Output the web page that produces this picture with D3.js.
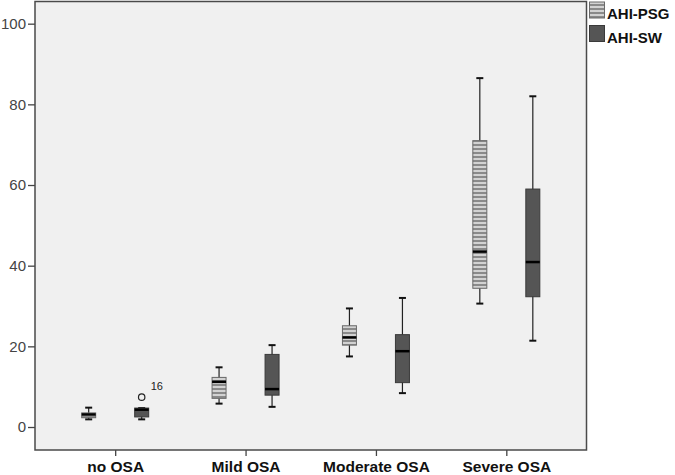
<!DOCTYPE html>
<html><head><meta charset="utf-8">
<script src="https://cdn.jsdelivr.net/npm/d3@7"></script>
<style>body{margin:0;background:#fff}svg{display:block}</style>
</head><body>
<script>
const categories = ["no OSA", "Mild OSA", "Moderate OSA", "Severe OSA"];
const seriesNames = ["AHI-PSG", "AHI-SW"];
// AHI-PSG box stats
const psgMin = [1.9, 5.8, 17.5, 30.6];
const psgQ1  = [2.3, 7.1, 20.3, 34.4];
const psgMed = [3.1, 11.2, 22.2, 43.5];
const psgQ3  = [3.5, 12.3, 25.1, 71.0];
const psgMax = [4.8, 14.8, 29.4, 86.5];
// AHI-SW box stats
const swMin = [1.9, 5.0, 8.4, 21.4];
const swQ1  = [2.5, 7.9, 11.0, 32.3];
const swMed = [4.3, 9.4, 18.8, 40.9];
const swQ3  = [4.7, 18.0, 22.9, 59.0];
const swMax = [4.7, 20.3, 32.0, 82.0];
// outliers
const outlierCategory = ["no OSA"];
const outlierSeries = ["AHI-SW"];
const outlierValue = [7.4];
const outlierLabel = ["16"];
const yTicks = [0, 20, 40, 60, 80, 100];

const W = 675, H = 475;
const L = 35, R = 586.5, T = 1.5, B = 450;

const svg = d3.select("body").append("svg").attr("width", W).attr("height", H);
const defs = svg.append("defs");
const pat = defs.append("pattern").attr("id", "stripes")
  .attr("patternUnits", "userSpaceOnUse").attr("width", 4).attr("height", 4);
pat.append("rect").attr("width", 4).attr("height", 4).attr("fill", "#d2d2d2");
pat.append("rect").attr("width", 4).attr("height", 2).attr("fill", "#8a8a8a");

const y = d3.scaleLinear().domain([-5.7, 105.5]).range([B, T]);
const x = d3.scalePoint().domain(categories).range([L, R]).padding(0.615);
const boxW = 14;

svg.append("rect").attr("x", L).attr("y", T).attr("width", R - L).attr("height", B - T)
  .attr("fill", "#f0f0f0");

const fills = {"AHI-PSG": "url(#stripes)", "AHI-SW": "#555555"};
const strokes = {"AHI-PSG": "#6a6a6a", "AHI-SW": "#3a3a3a"};
const offsets = {"AHI-PSG": -26.5, "AHI-SW": 26.5};

const boxes = [];
categories.forEach((c, i) => {
  boxes.push({cat: c, s: "AHI-PSG", min: psgMin[i], q1: psgQ1[i], med: psgMed[i], q3: psgQ3[i], max: psgMax[i]});
  boxes.push({cat: c, s: "AHI-SW", min: swMin[i], q1: swQ1[i], med: swMed[i], q3: swQ3[i], max: swMax[i]});
});

const g = svg.append("g");
boxes.forEach(b => {
  const cx = x(b.cat) + offsets[b.s];
  const gg = g.append("g");
  gg.append("line").attr("x1", cx).attr("x2", cx).attr("y1", y(b.max)).attr("y2", y(b.min))
    .attr("stroke", "#222").attr("stroke-width", 1.2);
  [b.max, b.min].forEach(v => {
    gg.append("line").attr("x1", cx - 3.5).attr("x2", cx + 3.5).attr("y1", y(v)).attr("y2", y(v))
      .attr("stroke", "#111").attr("stroke-width", 2);
  });
  gg.append("rect").attr("x", cx - boxW / 2).attr("width", boxW)
    .attr("y", y(b.q3)).attr("height", Math.max(1, y(b.q1) - y(b.q3)))
    .attr("fill", fills[b.s]).attr("stroke", strokes[b.s]).attr("stroke-width", 1);
  gg.append("line").attr("x1", cx - boxW / 2).attr("x2", cx + boxW / 2)
    .attr("y1", y(b.med)).attr("y2", y(b.med)).attr("stroke", "#000").attr("stroke-width", 2.5);
});

outlierValue.forEach((v, i) => {
  const cx = x(outlierCategory[i]) + offsets[outlierSeries[i]];
  g.append("circle").attr("cx", cx).attr("cy", y(v)).attr("r", 3.2)
    .attr("fill", "none").attr("stroke", "#222").attr("stroke-width", 1.2);
  g.append("text").attr("x", cx + 9).attr("y", y(v) - 7).text(outlierLabel[i])
    .attr("font-family", "Liberation Sans, Arial, sans-serif").attr("font-size", 11).attr("fill", "#222");
});

// axes
const yAxis = svg.append("g").attr("transform", `translate(${L},0)`)
  .call(d3.axisLeft(y).tickValues(yTicks).tickSize(7).tickSizeOuter(0).tickPadding(2));
yAxis.select(".domain").remove();
yAxis.selectAll("line").attr("stroke", "#444").attr("stroke-width", 1.3);
yAxis.selectAll("text").attr("font-family", "Liberation Sans, Arial, sans-serif")
  .attr("font-size", 15).attr("fill", "#444");

const xAxis = svg.append("g").attr("transform", `translate(0,${B})`)
  .call(d3.axisBottom(x).tickSize(6).tickSizeOuter(0).tickPadding(5));
xAxis.select(".domain").remove();
xAxis.selectAll("line").attr("stroke", "#444").attr("stroke-width", 1.3);
xAxis.selectAll("text").attr("font-family", "Liberation Sans, Arial, sans-serif")
  .attr("font-size", 15.5).attr("font-weight", "bold").attr("fill", "#111");

svg.append("rect").attr("x", L).attr("y", T).attr("width", R - L).attr("height", B - T)
  .attr("fill", "none").attr("stroke", "#4a4a4a").attr("stroke-width", 1.5);

// legend
const leg = svg.append("g");
seriesNames.forEach((s, i) => {
  const ly = 2 + i * 23.5;
  leg.append("rect").attr("x", 589.5).attr("y", ly).attr("width", 15).attr("height", 16)
    .attr("fill", fills[s]).attr("stroke", strokes[s]).attr("stroke-width", 1);
  leg.append("text").attr("x", 607).attr("y", ly + 17).text(s)
    .attr("font-family", "Liberation Sans, Arial, sans-serif").attr("font-size", 15)
    .attr("font-weight", "bold").attr("fill", "#111");
});
</script>
</body></html>
